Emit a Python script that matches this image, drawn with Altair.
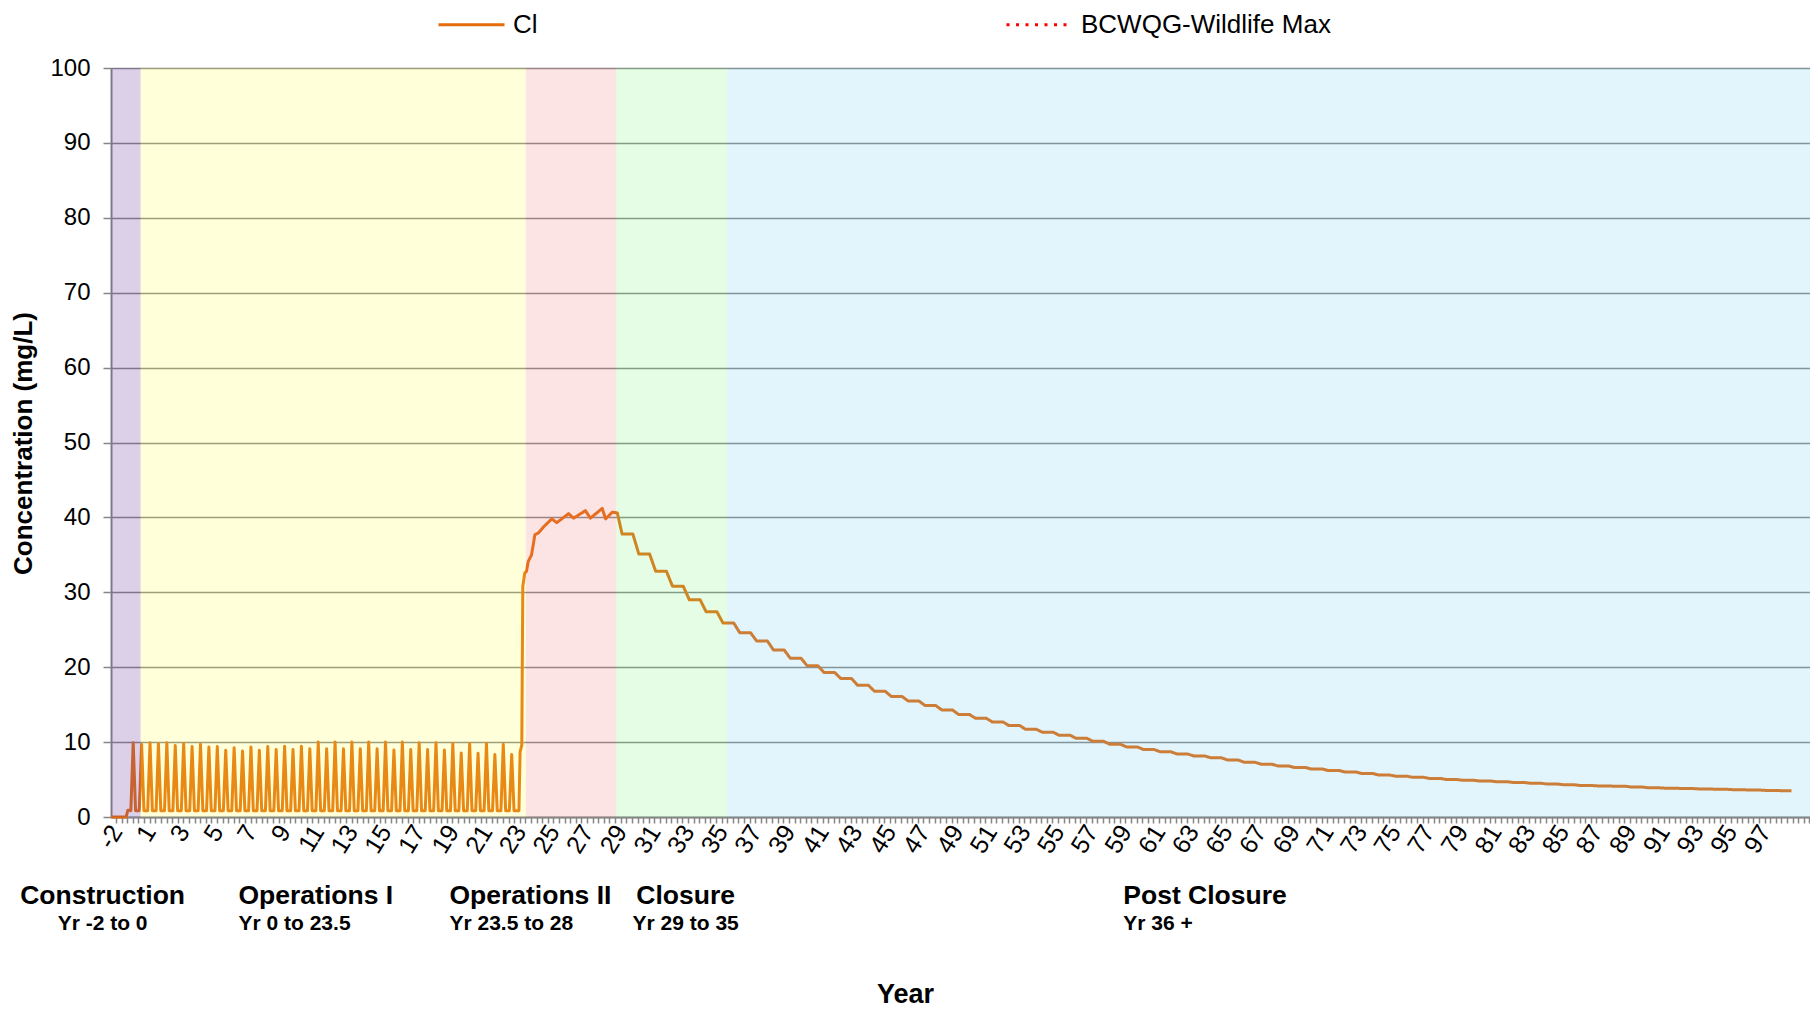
import altair as alt
import pandas as pd

# ---------------- data ----------------
series_names = ["Cl", "BCWQG-Wildlife Max"]
series_colors = ["#E46C0A", "#FF0000"]

# Construction (years, mg/L)
construction_years = [-1.3, -0.4, -0.3, -0.12]
construction_conc = [0.0, 0.0, 0.9, 0.9]

# Operations I: two runoff spikes a year over a low base
ops1_first_spike = 0.02
ops1_spike_spacing = 0.5
ops1_spike_halfwidth = 0.14
ops1_base = 0.85
ops1_spike_peaks = [9.9, 9.7, 9.9, 9.8, 9.9, 9.55, 9.8, 9.4, 9.7, 9.35,
                    9.4, 8.9, 9.25, 8.8, 9.35, 8.9, 9.4, 9.0, 9.45, 9.0,
                    9.45, 9.1, 10.0, 9.1, 10.0, 9.1, 10.0, 9.1, 10.0, 9.1,
                    10.0, 8.95, 10.0, 9.0, 9.9, 9.0, 9.9, 8.95, 9.8, 8.55,
                    9.8, 8.5, 9.8, 8.35, 9.7, 8.35]

# Operations II
ops2_years = [22.95, 23.02, 23.12, 23.18, 23.3, 23.4, 23.5, 23.7, 23.9, 24.1,
              24.4, 24.9, 25.2, 25.9, 26.2, 26.9, 27.2, 27.9, 28.1, 28.5, 28.8]
ops2_conc = [0.85, 8.7, 9.6, 30.8, 32.6, 32.8, 34.1, 35.0, 37.7, 37.9,
             38.7, 39.8, 39.3, 40.5, 39.9, 40.9, 39.9, 41.2, 39.8, 40.7, 40.6]

# Closure and Post Closure: one plateau per year, from year 29
closure_first_year = 29
closure_annual_conc = [37.8, 35.1, 32.8, 30.8, 29.0, 27.4, 25.9, 24.6, 23.5, 22.3,
                       21.2, 20.2, 19.3, 18.5, 17.6, 16.8, 16.1, 15.5, 14.9, 14.3,
                       13.7, 13.2, 12.7, 12.2, 11.7, 11.3, 10.9, 10.5, 10.1, 9.7,
                       9.35, 9.0, 8.7, 8.4, 8.15, 7.9, 7.6, 7.3, 7.05, 6.8,
                       6.6, 6.4, 6.2, 6.0, 5.8, 5.6, 5.45, 5.3, 5.15, 5.0,
                       4.9, 4.8, 4.7, 4.6, 4.5, 4.4, 4.3, 4.2, 4.15, 4.1,
                       4.0, 3.9, 3.85, 3.8, 3.75, 3.7, 3.65, 3.6, 3.55, 3.5]
plateau_start = 0.08
plateau_end = 0.72
record_end_year = 98.6

# Phases
phase_names = ["Construction", "Operations I", "Operations II", "Closure", "Post Closure"]
phase_sub = ["Yr -2 to 0", "Yr 0 to 23.5", "Yr 23.5 to 28", "Yr 29 to 35", "Yr 36 +"]
phase_start = [-1.3, 0.46, 23.36, 28.73, 35.34]
phase_end = [0.46, 23.36, 28.73, 35.34, 99.7]
phase_label_year = [-1.8, 6.28, 18.82, 32.86, 58.88]
phase_label_align = ["center", "left", "left", "center", "left"]

# Axis
x_min, x_max = -1.3, 99.7
x_first_label_year = -1
x_first_label = "-2"
x_last_label_year = 97
x_minor_per_year = 3

# ---------------- styles ----------------
phase_fill = ["#7343A3", "#FFFF41", "#F57878", "#7DF07D", "#6EC8F0"]
phase_alpha = [0.25, 0.2, 0.2, 0.2, 0.2]
FONT = "Liberation Sans"
GRAY = "#868686"

# ---------------- tables ----------------
pts = []
for t, v in zip(construction_years, construction_conc):
    pts.append((t, v))
for k, p in enumerate(ops1_spike_peaks):
    t = ops1_first_spike + k * ops1_spike_spacing
    pts += [(t - ops1_spike_halfwidth, ops1_base), (t, p), (t + ops1_spike_halfwidth, ops1_base)]
for t, v in zip(ops2_years, ops2_conc):
    pts.append((t, v))
for i, v in enumerate(closure_annual_conc):
    y0 = closure_first_year + i
    pts += [(y0 + plateau_start, v), (min(y0 + plateau_end, record_end_year), v)]

line_df = pd.DataFrame(pts, columns=["year", "conc"])
line_df["series"] = series_names[0]

band_df = pd.DataFrame({"phase": phase_names, "start": phase_start, "end": phase_end,
                        "fill": phase_fill, "alpha": phase_alpha})
label_df = pd.DataFrame({"main": phase_names, "sub": phase_sub,
                         "year": phase_label_year, "align": phase_label_align})

tick_values = [round(k / x_minor_per_year, 6)
               for k in range(int(x_min * x_minor_per_year), int(x_max * x_minor_per_year) + 1)
               if x_min <= k / x_minor_per_year <= x_max]
label_expr = (f"datum.value == {x_first_label_year} ? '{x_first_label}' : "
              f"(datum.value % 2 == 1 && datum.value <= {x_last_label_year} "
              "? format(datum.value, 'd') : '')")

x_scale = alt.Scale(domain=[x_min, x_max], nice=False, zero=False)
y_scale = alt.Scale(domain=[0, 100], nice=False)

x_axis = alt.Axis(values=tick_values, tickCount=len(tick_values) + 10, labelExpr=label_expr,
                  labelAngle=-58, labelAlign="right", labelBaseline="middle", labelOverlap=False,
                  labelFontSize=25, labelFont=FONT, labelColor="black", labelPadding=4,
                  labelBound=False, labelFlush=False,
                  grid=False, tickSize=6, tickColor=GRAY, tickWidth=1.5,
                  domainColor=GRAY, domainWidth=2,
                  title="Year", titleFont=FONT, titleFontSize=27, titleFontWeight="bold",
                  titleColor="black", titleX=794, titleY=177, titleBaseline="middle",
                  titleAlign="center")
y_axis = alt.Axis(values=list(range(0, 101, 10)), grid=True, gridColor=GRAY, gridWidth=1.5,
                  labelFontSize=24, labelFont=FONT, labelColor="black", labelPadding=13,
                  tickSize=8, tickColor=GRAY, tickWidth=1.5, domainColor=GRAY, domainWidth=2,
                  title="Concentration (mg/L)", titleFont=FONT, titleFontSize=26,
                  titleFontWeight="bold", titleColor="black", titleAngle=-90,
                  titleX=-88, titleY=375, titleBaseline="middle", titleAlign="center")

legend = alt.Legend(title=None, orient="none", legendX=326, legendY=-78,
                    direction="horizontal", symbolType="stroke", symbolSize=4356,
                    symbolStrokeWidth=3, labelFont=FONT, labelFontSize=26, labelLimit=500,
                    labelColor="black", labelOffset=7, columnPadding=462)

line = alt.Chart(line_df).mark_line(strokeWidth=3, strokeJoin="round").encode(
    x=alt.X("year:Q", scale=x_scale, axis=x_axis),
    y=alt.Y("conc:Q", scale=y_scale, axis=y_axis),
    color=alt.Color("series:N", scale=alt.Scale(domain=series_names, range=series_colors),
                    legend=legend),
    strokeDash=alt.StrokeDash("series:N",
                              scale=alt.Scale(domain=series_names, range=[[1, 0], [3, 6.5]]),
                              legend=legend),
)

bands = alt.Chart(band_df).mark_rect().encode(
    x="start:Q", x2="end:Q",
    y=alt.datum(100), y2=alt.datum(0),
    fill=alt.Fill("fill:N", scale=None),
    fillOpacity=alt.FillOpacity("alpha:Q", scale=None),
)

def phase_text(field, align, size, ypix):
    return alt.Chart(label_df).transform_filter(f"datum.align == '{align}'").mark_text(
        align=align, baseline="middle", font=FONT, fontSize=size, fontWeight="bold", color="black"
    ).encode(x="year:Q", y=alt.value(ypix), text=f"{field}:N")

chart = alt.layer(
    line, bands,
    phase_text("main", "center", 26.5, 828), phase_text("main", "left", 26.5, 828),
    phase_text("sub", "center", 21, 856), phase_text("sub", "left", 21, 856),
).properties(
    width=1699, height=749,
    padding={"left": 103, "top": 60, "right": 0, "bottom": 192},
    autosize=alt.AutoSizeParams(type="none"),
).configure_view(stroke=None).configure(background="white")

chart.save("out.html", embed_options={"renderer": "svg", "actions": False})
